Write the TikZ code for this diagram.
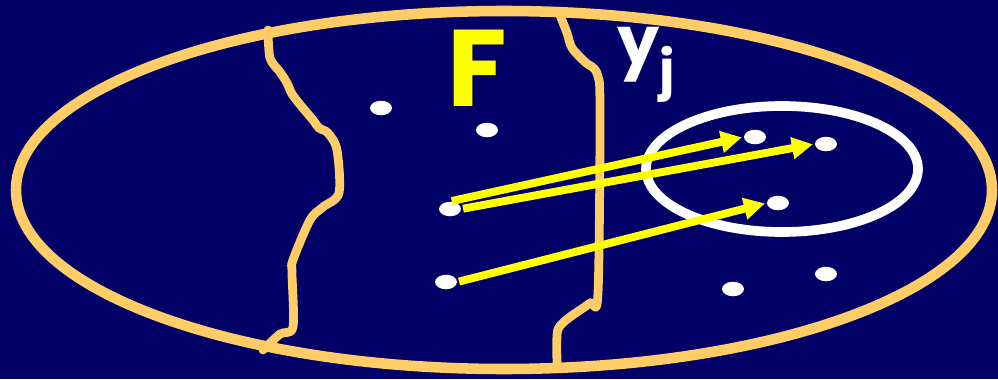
\documentclass[tikz,border=0pt]{standalone}
\usepackage{fontspec}
\setmainfont{Poppins}
\usepackage{tikz}
\usetikzlibrary{arrows.meta,shapes.geometric}
\definecolor{Navy}{HTML}{000066}
\definecolor{Peach}{HTML}{FFCC66}
\definecolor{Lemon}{HTML}{FFFF00}

\begin{document}
\begin{tikzpicture}[
  x=0.02cm,y=-0.02cm,
  rim/.style={draw=Peach,line width=6pt},
  cut/.style={draw=Peach,line width=5pt,line join=round,line cap=round},
  region/.style={draw=white,line width=5.5pt},
  dot/.style={ellipse,fill=white,inner sep=0pt,
    minimum width=0.44cm,minimum height=0.29cm},
  map/.style={-{Triangle[length=4.2mm,width=4.2mm]},Lemon,line width=4.5pt,
    shorten <=1pt,shorten >=1pt}
]
% Background and outer set.
\fill[Navy] (0,0) rectangle (998,379);
\useasboundingbox (0,0) rectangle (998,379);
\draw[rim] (504,190) ellipse [x radius=488,y radius=179];

% Two ragged borders of F.
\draw[cut] plot[smooth,tension=0.5] coordinates {(268,30) (270,58) (280,72)
  (287,83) (292,94) (302,107) (313,120) (319,128) (328,133) (337,150)
  (339,193) (323,207) (310,220) (293,260) (292,273) (293,327) (280,334)
  (263,350)};
\draw[cut] plot[smooth,tension=0.5] coordinates {(560,15) (567,33) (572,48)
  (585,62) (597,73) (600,107) (598,293) (590,303) (570,317) (560,326)
  (557,335) (557,367)};

% Labels.
\node[Lemon,font=\fontsize{62}{62}\selectfont\bfseries] (F) at (477,68) {F};
\node[white,font=\fontsize{38}{38}\selectfont\bfseries,anchor=base west] (yj)
  at (611,64) {y\raisebox{-14pt}{\fontsize{30}{30}\selectfont j}};

% Neighbourhood.
\draw[region] (782,169) ellipse [x radius=136,y radius=63];

% Points.
\node[dot] (a) at (381,108) {};
\node[dot] (b) at (487,130) {};
\node[dot] (p1) at (450,209) {};
\node[dot] (p2) at (446,282) {};
\node[dot] (q1) at (755,137) {};
\node[dot] (q2) at (826,144) {};
\node[dot] (q3) at (778,203) {};
\node[dot] (c) at (826,274) {};
\node[dot] (d) at (733,289) {};

% Mappings.
\draw[map] (p1.north) -- (q1.west);
\draw[map] (p1.east) -- (q2.west);
\draw[map] (p2.east) -- (q3.west);
\end{tikzpicture}
\end{document}
